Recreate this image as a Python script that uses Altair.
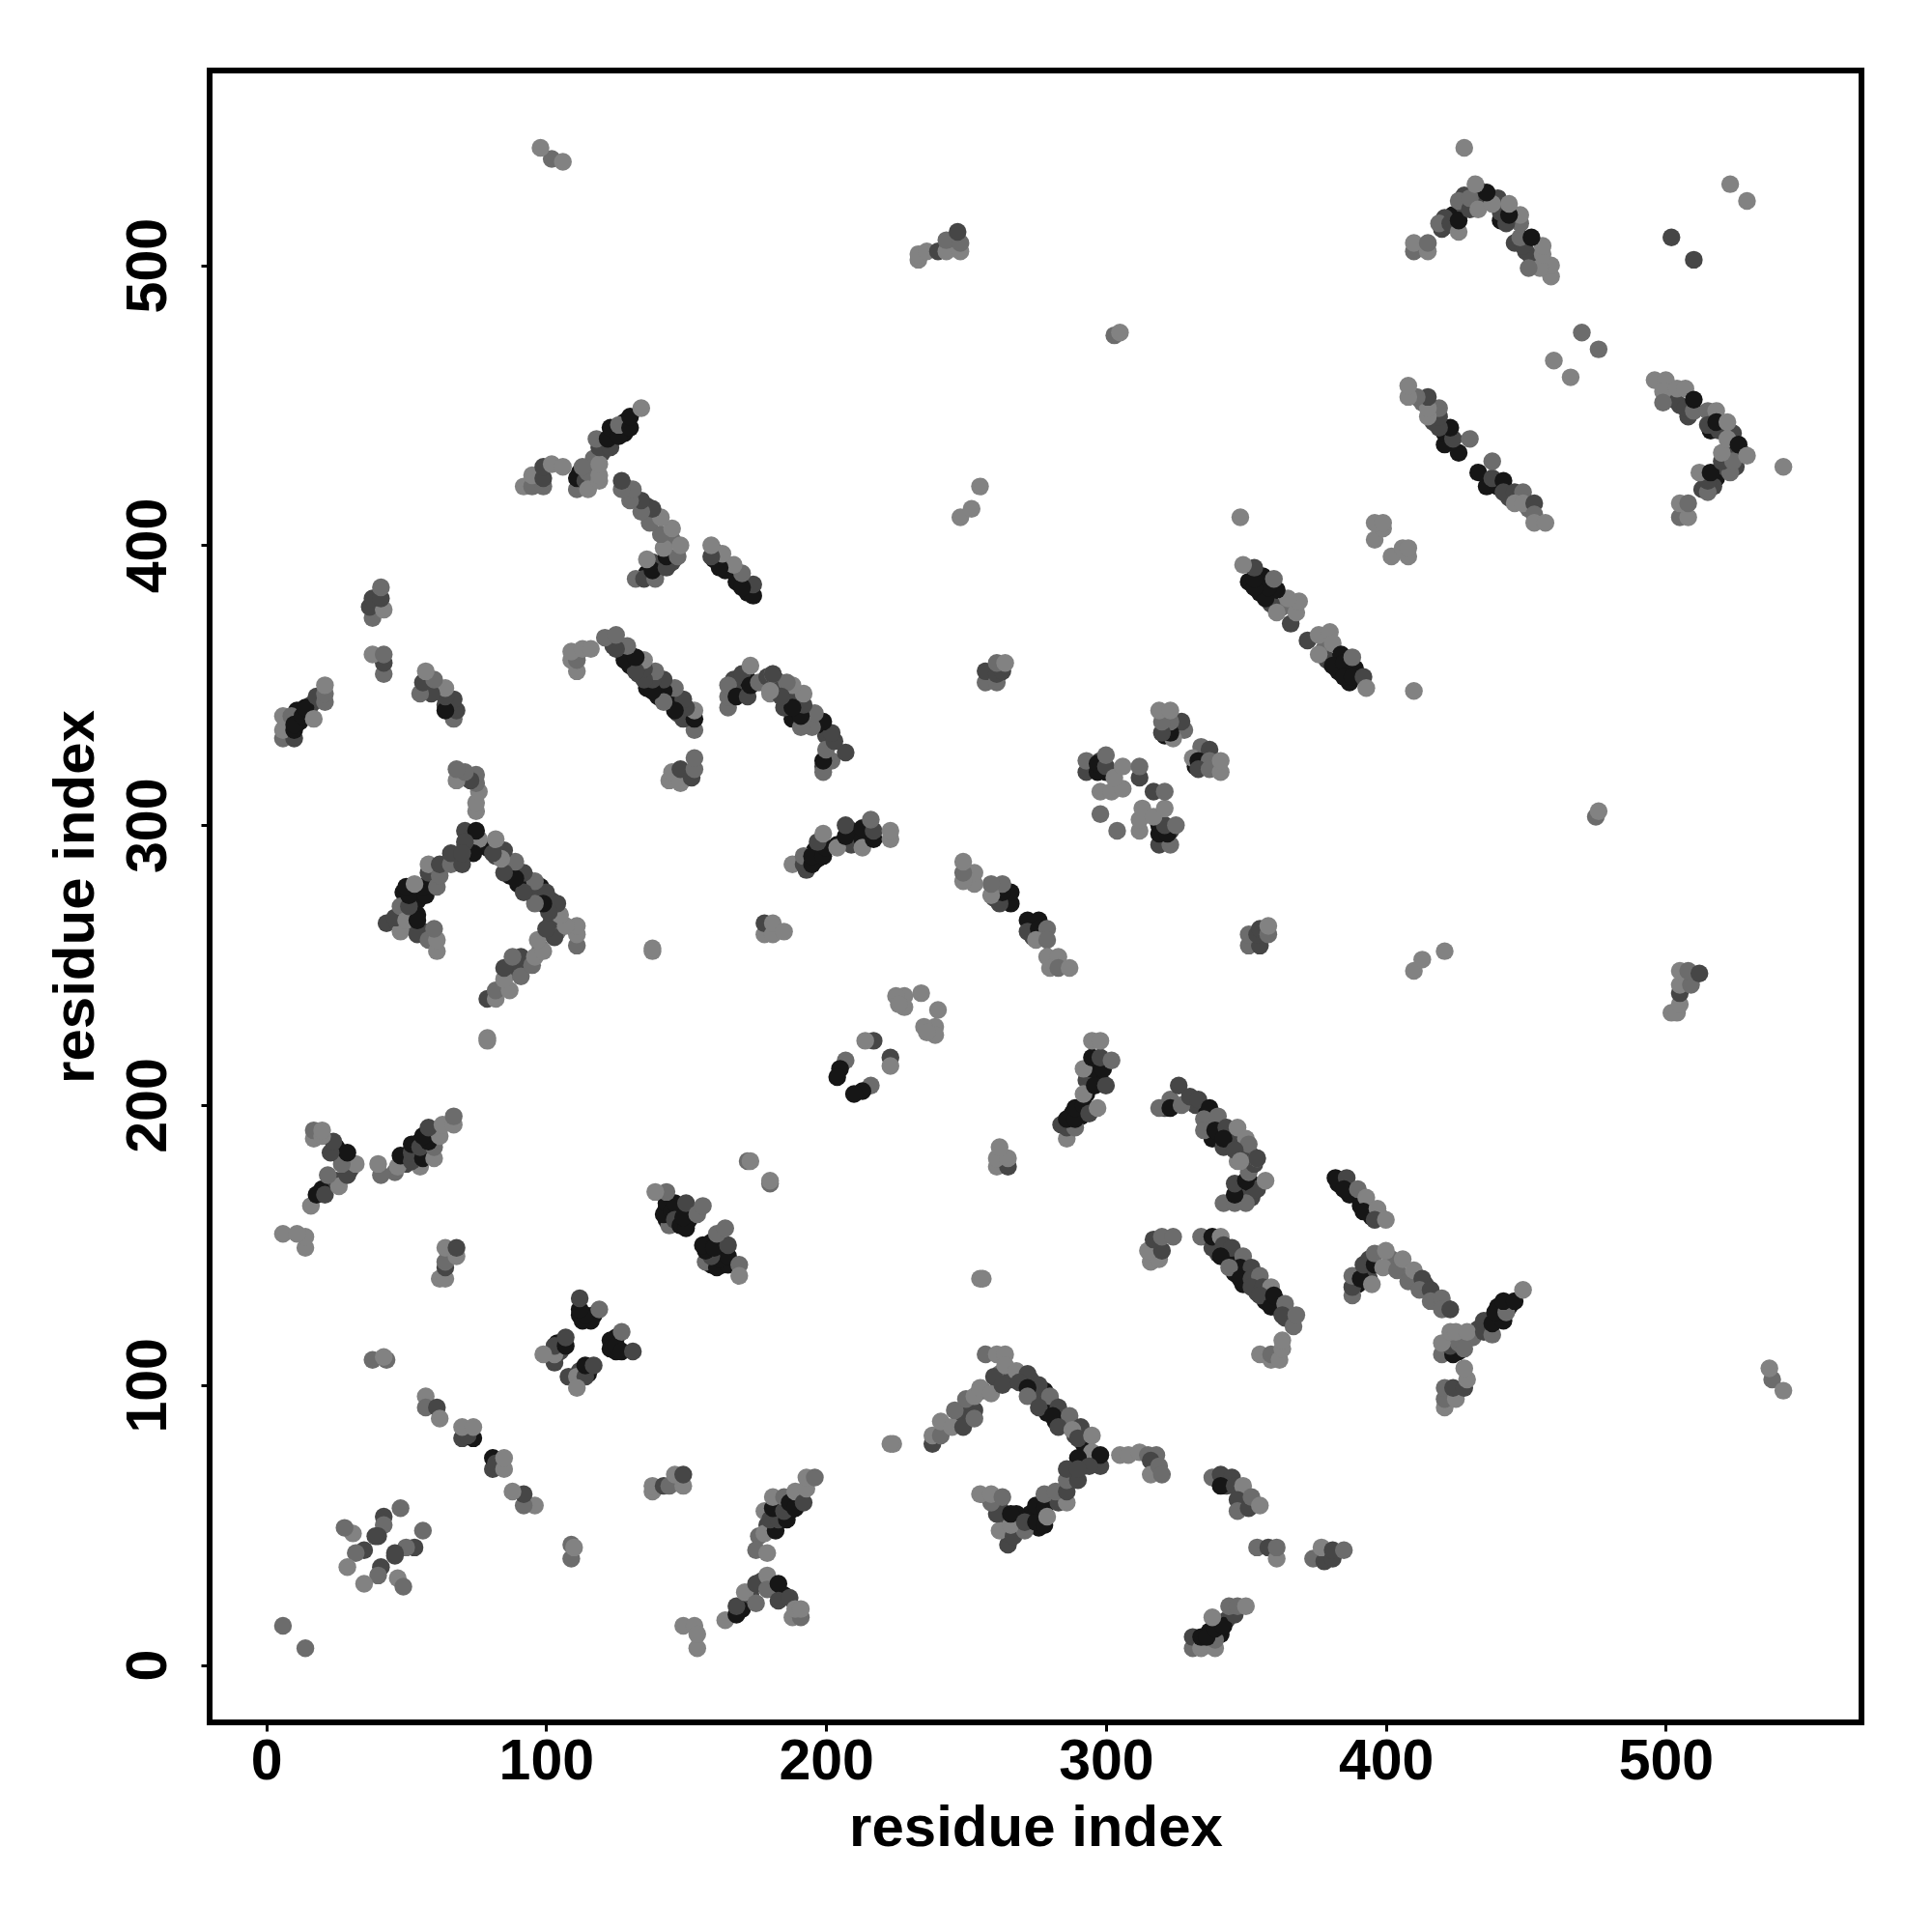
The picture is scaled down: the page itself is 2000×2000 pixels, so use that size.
import altair as alt
import pandas as pd

# Contact pairs (i, j, shade), i > j; the map is symmetric.
SHADES = {"L": "#828282", "M": "#6c6c6c", "D": "#464646", "K": "#161616"}

# Contacts lying underneath the dense bands, drawn first.
under_k = [(340,147,"D"),(344,146,"K"),(346,140,"K"),(350,140,"D"),(349,136,"K"),(354,133,"D"),(357,130,"K"),(361,130,"D"),(362,127,"D"),(364,124,"D")]
under_bracket = [(273,102,"D"),(278,98,"K"),(277,95,"D"),(281,93,"D"),(279,90,"K"),(285,87,"D"),(282,87,"K"),(289,82,"D"),(292,79,"K"),
                 (296,74,"D"),(292,71,"D"),(288,68,"D"),(284,61,"D"),(281,59,"D"),(276,54,"K"),(273,54,"K"),(269,50,"D"),(268,54,"K"),
                 (264,50,"D"),(262,56,"D"),(276,49,"K"),(243,85,"M"),(248,88,"D"),(251,92,"D"),(256,98,"M"),(262,104,"M"),(266,102,"D")]
under_arm = [(184,52,"K"),(187,55,"K"),(183,57,"K"),(190,60,"D"),(179,50,"D"),(176,46,"M"),(170,20,"K"),(173,25,"D"),(181,27,"K"),(185,25,"K"),(177,30,"D")]
under_h = [(337,12,"K"),(341,11,"K"),(343,16,"D"),(332,8,"D"),(336,7,"M"),(343,64,"D"),(349,60,"D"),(349,57,"M"),(348,170,"K"),(352,172,"K"),(348,167,"D"),(352,167,"D")]
under_o = [(392,140,"K"),(394,138,"D"),(390,136,"K"),(394,145,"D"),(402,145,"M"),(410,138,"D"),(414,136,"D"),(418,130,"D"),(421,128,"D"),
           (383,172,"K"),(387,168,"K"),(391,164,"K"),(395,160,"K"),(398,160,"D")]
under_p = [(436,121,"K"),(440,124,"K"),(444,128,"K"),(440,128,"K"),(437,123,"K"),(433,120,"D"),(426,112,"K"),(422,112,"D"),(427,117,"M"),(431,117,"M")]
under_w = [(378,363,"M"),(383,359,"K"),(386,355,"K"),(383,355,"K"),(389,356,"K"),(379,359,"D"),(387,351,"K"),
           (436,421,"K"),(440,421,"K"),(444,417,"D"),(447,417,"D"),(451,413,"M")]
under_cc = [(503,452,"D"),(505,450,"D"),(508,446,"D"),(516,441,"K"),(519,441,"D"),(524,440,"D"),(527,433,"K"),(524,435,"D"),(518,424,"K"),
            (517,421,"D"),(514,421,"D"),(521,428,"D"),(525,428,"D")]
under_gg = [(332,200,"D"),(336,197,"K"),(338,194,"K"),(338,188,"K"),(342,185,"D"),(345,187,"D"),(349,184,"D"),(352,182,"D"),(321,199,"D"),
            (288,197,"K"),(291,196,"K"),(284,193,"D"),(293,204,"K"),(298,209,"K"),(293,209,"D"),(296,215,"K")]
under_misc = [(163,147,"K"),(160,146,"K"),(163,143,"K"),(159,143,"K"),(159,151,"K"),(125,117,"K"),(125,112,"K"),(115,104,"K"),(112,105,"D"),
              (274,264,"K"),(277,261,"D"),(274,260,"D"),(320,295,"D"),(323,298,"D"),(319,300,"K"),(335,322,"D"),(332,321,"K"),(83,72,"K")]

singles = [(14,6,"M"),(255,138,"L"),(180,172,"M"),(180,173,"L"),(224,79,"L"),(223,79,"L"),(256,138,"L"),
           (410,348,"L"),(510,502,"D"),(529,523,"L"),(476,470,"M"),(466,460,"L"),(542,428,"L")]
c_a = [(149,14,"L"),(153,14,"L"),(154,6,"L"),(154,11,"L")]
c_b = [(109,38,"M"),(109,43,"M"),(110,42,"L")]
c_c = [(138,62,"L"),(138,64,"L"),(142,64,"D"),(144,64,"M"),(149,64,"L"),(146,68,"L"),(149,68,"D")]
c_chain1 = [(96,57,"L"),(92,57,"M"),(92,61,"D"),(88,62,"L"),(81,70,"D"),(81,74,"K"),(82,72,"D"),(85,70,"L"),(85,74,"L")]
c_lobe_r = [(123,116,"K"),(123,113,"K"),(125,114,"K"),(127,112,"K"),(131,112,"D"),(127,119,"M")]
c_lobe_b = [(108,103,"D"),(111,103,"L"),(114,103,"D"),(111,99,"L"),(114,107,"K"),(117,107,"D")]
c_ladder = [(157,144,"M"),(161,142,"K"),(165,143,"K"),(162,145,"K"),(165,146,"K"),(159,146,"D"),(157,148,"K"),
            (156,150,"K"),(160,149,"K"),(165,150,"D"),(161,154,"M"),(164,156,"M"),(169,143,"M"),(169,139,"L")]
c_small = [(56,48,"M"),(53,42,"D"),(50,42,"M"),(46,40,"D"),(46,39,"D"),(47,31,"L"),(49,28,"M"),(41,35,"D"),(40,32,"M"),(35,29,"L")]
c_foot = [(164,16,"L"),(168,18,"K"),(168,21,"D"),(171,26,"L"),(175,22,"M"),(175,29,"D"),(179,32,"L"),(179,27,"M"),
          (183,29,"K"),(183,23,"D"),(187,24,"D"),(188,17,"L"),(191,17,"M"),(189,20,"L"),(191,20,"L")]
c_arm = [(175,41,"M"),(178,47,"L"),(179,40,"L"),(182,48,"K"),(178,55,"L"),(180,52,"D"),(183,52,"D"),(186,52,"K"),
         (181,56,"K"),(181,60,"L"),(185,55,"D"),(185,60,"M"),(187,58,"K"),(189,56,"K"),(189,62,"L"),(192,58,"D"),
         (193,63,"L"),(193,67,"L"),(196,67,"M")]
c_bracket_l = [(238,79,"D"),(238,82,"L"),(241,82,"M"),(241,87,"L"),(245,85,"L"),(246,91,"M"),(249,85,"D"),(253,91,"D"),
               (253,88,"M"),(250,95,"M"),(253,96,"L"),(255,99,"L"),(259,97,"L"),(260,103,"D"),(263,100,"D"),
               (257,111,"M"),(261,111,"L"),(264,111,"L"),(264,107,"L"),(268,105,"L"),(272,104,"D")]
c_bracket_r = [(269,101,"D"),(276,100,"D"),(272,99,"K"),(272,96,"M"),(280,96,"M"),(276,92,"D"),(283,92,"D"),(281,89,"K"),
               (287,89,"M"),(283,85,"D"),(291,85,"D"),(288,84,"L"),(290,81,"D"),(295,82,"L"),(298,71,"D"),(295,76,"L"),
               (298,75,"K"),(290,74,"K"),(294,71,"D")]
c_bracket_b = [(265,43,"D"),(265,47,"D"),(262,48,"L"),(267,46,"D"),(271,48,"M"),(266,50,"L"),(261,54,"D"),(259,58,"M"),
               (255,61,"L"),(259,61,"L"),(263,60,"M"),(266,54,"K"),(271,51,"D"),(275,51,"K"),(278,50,"K"),(275,57,"K"),
               (278,56,"K"),(279,53,"L"),(283,58,"D"),(286,58,"L"),(278,61,"M"),(282,62,"M"),(286,62,"D"),(286,66,"M"),
               (290,66,"D"),(286,70,"D"),(290,70,"D")]
c_d = [(305,75,"L"),(308,75,"L"),(312,76,"L"),(315,75,"M"),(318,75,"M"),(316,73,"D"),(316,68,"L"),(319,71,"M"),(320,68,"M")]
c_e = [(338,67,"M"),(341,68,"D"),(345,67,"D"),(341,64,"K"),(346,64,"D"),(349,64,"L"),(347,59,"D"),(347,55,"M"),
       (351,56,"D"),(352,60,"M"),(355,57,"L")]
c_f = [(354,42,"M"),(358,42,"D"),(361,38,"L"),(361,42,"M")]
c_g = [(374,38,"M"),(378,37,"D"),(377,42,"L"),(381,38,"D"),(381,41,"D"),(385,41,"M")]
c_h = [(331,6,"M"),(331,10,"D"),(334,6,"L"),(339,6,"L"),(339,9,"M"),(334,10,"K"),(336,10,"K"),(339,13,"K"),(342,14,"K"),
       (338,17,"L"),(346,18,"D"),(344,21,"M"),(347,21,"M"),(350,21,"L")]
c_i = [(342,165,"M"),(346,165,"M"),(350,165,"M"),(346,168,"K"),(354,170,"D"),(346,172,"D"),(350,173,"K"),(357,173,"L"),
       (351,176,"M"),(353,179,"D"),(347,180,"L"),(354,181,"L")]
c_j = [(316,144,"L"),(319,145,"L"),(315,148,"L"),(320,148,"D"),(317,152,"D"),(320,153,"M"),(324,153,"M")]
c_k = [(334,153,"M"),(338,149,"D"),(338,153,"K"),(341,153,"L"),(342,150,"D"),(345,149,"D"),(341,146,"K"),(349,146,"M"),
       (348,142,"K"),(344,142,"M"),(352,142,"D"),(348,138,"K"),(352,138,"D"),(355,139,"M"),(352,135,"D"),(356,135,"D"),
       (359,135,"L"),(355,132,"D"),(359,128,"K"),(360,132,"K"),(364,129,"M"),(363,125,"D"),(367,121,"M"),(368,125,"M")]
c_l = [(355,111,"L"),(359,109,"L"),(359,111,"M"),(362,109,"L"),(363,113,"L"),(363,116,"L")]
c_m = [(261,178,"L"),(265,178,"D"),(261,181,"L"),(265,181,"L"),(262,185,"L")]
c_n = [(382,174,"K"),(386,174,"D"),(385,170,"K"),(390,170,"M"),(393,167,"L"),(392,162,"K"),(397,163,"L"),(396,159,"D"),(400,159,"L")]
c_o = [(388,132,"M"),(388,135,"D"),(388,139,"M"),(391,138,"K"),(395,136,"L"),(392,143,"D"),(396,143,"K"),(396,147,"M"),
       (399,142,"L"),(400,148,"L"),(404,141,"M"),(406,145,"L"),(408,137,"M"),(410,141,"L"),(413,138,"D"),(412,134,"M"),
       (416,134,"D"),(416,130,"M"),(420,131,"M"),(420,127,"M"),(423,127,"D")]
c_p = [(420,111,"M"),(424,111,"K"),(423,114,"D"),(426,115,"M"),(428,113,"M"),(420,115,"L"),(423,119,"L"),(425,119,"L"),
       (429,119,"L"),(435,119,"D"),(435,123,"D"),(438,118,"M"),(438,122,"K"),(442,123,"K"),(439,126,"K"),(443,126,"M"),
       (442,130,"K"),(446,130,"K"),(449,134,"L")]
c_q = [(421,92,"L"),(421,95,"M"),(421,99,"M"),(425,95,"L"),(424,99,"D"),(428,99,"D"),(429,102,"L"),(428,106,"L")]
c_r = [(538,102,"M"),(537,106,"L"),(542,98,"L")]
c_s = [(334,328,"M"),(337,327,"D"),(331,324,"L"),(333,323,"K"),(337,323,"M"),(333,320,"D"),(337,320,"M"),(341,319,"L"),(341,323,"L")]
c_t = [(304,298,"M"),(312,298,"L"),(312,302,"L"),(313,306,"L"),(319,293,"D"),(323,293,"M"),(319,297,"K"),(322,297,"K"),
       (321,300,"D"),(317,303,"L"),(321,306,"L"),(325,300,"M"),(317,312,"D"),(321,312,"M")]
c_u = [(351,257,"M"),(355,257,"D"),(351,261,"M"),(354,261,"D"),(355,263,"D"),(358,261,"M"),(358,264,"L")]
c_v = [(272,266,"K"),(276,266,"K"),(272,262,"D"),(276,263,"K"),(279,263,"M"),(275,259,"L"),(279,259,"M"),(279,253,"L"),
       (283,253,"L"),(280,249,"L"),(283,249,"M"),(287,249,"L")]
c_w = [(372,366,"D"),(376,368,"L"),(380,369,"L"),(381,365,"L"),(376,361,"L"),(384,361,"K"),(381,357,"K"),(385,358,"K"),
       (385,353,"K"),(388,353,"K"),(388,360,"M"),(392,353,"D"),(393,349,"L")]
c_x = [(475,303,"M"),(476,305,"L")]
c_y = [(410,248,"L"),(413,252,"L"),(421,255,"L")]
c_z = [(502,233,"L"),(504,233,"L"),(505,236,"L"),(505,240,"D"),(505,243,"L"),(509,243,"M"),(505,248,"L"),(508,248,"M"),(512,247,"D")]
c_aa = [(433,426,"K"),(438,424,"D"),(438,430,"M"),(442,423,"K"),(442,419,"D"),(446,419,"D"),(449,419,"M"),(446,415,"L"),
        (449,415,"L"),(453,415,"D"),(453,411,"M"),(453,408,"L"),(457,408,"L")]
c_bb = [(496,459,"L"),(500,459,"L"),(499,455,"L"),(499,451,"M"),(504,456,"L"),(507,456,"L"),(507,449,"D"),(510,448,"M"),
        (510,452,"K"),(515,448,"M"),(518,448,"L"),(515,443,"D"),(518,444,"K"),(522,444,"L")]
c_cc = [(505,410,"M"),(508,410,"L"),(505,415,"L"),(508,415,"M"),(513,420,"D"),(515,419,"M"),(515,423,"D"),(512,426,"L"),
        (516,426,"K"),(523,426,"M"),(520,430,"D"),(524,430,"M"),(520,433,"L"),(522,438,"L"),(526,436,"K"),(529,432,"L")]
c_dd = [(402,396,"L"),(406,399,"L"),(408,396,"L"),(408,399,"L")]
c_ee = [(216,207,"M"),(213,205,"K"),(210,204,"K"),(223,217,"D"),(223,214,"L"),(240,234,"L"),(239,228,"L"),(235,228,"L"),(239,225,"L"),(236,226,"L")]
c_ff = [(286,188,"L"),(286,192,"D"),(289,192,"M"),(286,195,"K"),(289,195,"K"),(289,199,"K"),(292,200,"K"),(294,197,"D"),
        (297,199,"L"),(292,204,"L"),(296,207,"K"),(300,207,"D"),(295,213,"K"),(299,213,"K"),(292,213,"L"),(295,217,"K"),
        (298,217,"D"),(302,216,"M"),(295,223,"L"),(298,223,"L")]
c_gg = [(319,199,"M"),(323,202,"M"),(326,207,"D"),(323,199,"K"),(327,200,"M"),(330,203,"D"),(333,202,"D"),(337,199,"K"),
        (335,195,"M"),(340,196,"M"),(335,191,"M"),(339,191,"K"),(343,192,"D"),(342,188,"K"),(347,192,"L"),(350,188,"L"),
        (351,186,"M"),(346,184,"D"),(354,181,"D"),(348,180,"L")]

clusters = [under_k, under_bracket, under_arm, under_h, under_o, under_p, under_w, under_cc, under_gg, under_misc,
            singles, c_a, c_b, c_c, c_chain1, c_lobe_r, c_lobe_b, c_ladder, c_small, c_foot, c_arm, c_bracket_l,
            c_bracket_r, c_bracket_b, c_d, c_e, c_f, c_g, c_h, c_i, c_j, c_k, c_l, c_m, c_n, c_o, c_p, c_q, c_r,
            c_s, c_t, c_u, c_v, c_w, c_x, c_y, c_z, c_aa, c_bb, c_cc, c_dd, c_ee, c_ff, c_gg]

rows = []
for cluster in clusters:
    for i, j, s in cluster:
        rows.append({"x": i, "y": j, "shade": SHADES[s]})
        rows.append({"x": j, "y": i, "shade": SHADES[s]})
data = pd.DataFrame(rows)

FONT = "Liberation Sans"
x_axis = alt.Axis(values=[0, 100, 200, 300, 400, 500], title="residue index", grid=False, domain=False,
                  tickColor="black", tickWidth=3, tickSize=9, labelFont=FONT, labelFontWeight="bold",
                  labelFontSize=59, labelColor="black", labelPadding=2, titleFont=FONT, titleFontWeight="bold",
                  titleFontSize=60, titleColor="black", titlePadding=10)
y_axis = alt.Axis(values=[0, 100, 200, 300, 400, 500], title="residue index", grid=False, domain=False,
                  tickColor="black", tickWidth=3, tickSize=9, labelFont=FONT, labelFontWeight="bold",
                  labelFontSize=59, labelColor="black", labelAngle=270, labelPadding=25, titleFont=FONT,
                  titleFontWeight="bold", titleFontSize=60, titleColor="black", titlePadding=15)

chart = (
    alt.Chart(data)
    .mark_circle(size=340, opacity=1)
    .encode(
        x=alt.X("x:Q", axis=x_axis, scale=alt.Scale(domain=[-20.2, 569.9], nice=False, zero=False)),
        y=alt.Y("y:Q", axis=y_axis, scale=alt.Scale(domain=[-20.5, 569.6], nice=False, zero=False)),
        color=alt.Color("shade:N", scale=None),
    )
    .properties(
        width=1710, height=1710,
        autosize=alt.AutoSizeParams(type="none"),
        padding={"left": 209, "top": 65, "right": 60, "bottom": 200},
        background="white",
    )
    .configure_view(stroke="black", strokeWidth=6, fill="white")
)
chart.save("out.html", embed_options={"renderer": "svg", "actions": False})
